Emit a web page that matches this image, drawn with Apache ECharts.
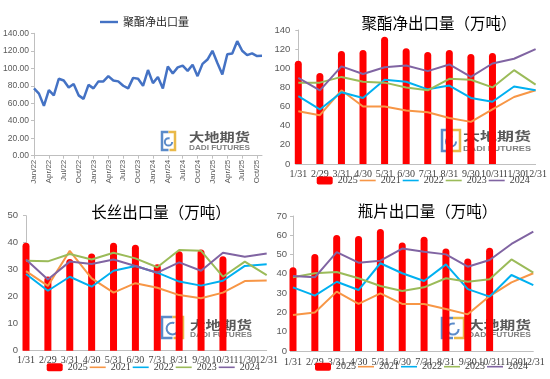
<!DOCTYPE html>
<html><head><meta charset="utf-8">
<script src="https://cdn.jsdelivr.net/npm/echarts@6/dist/echarts.min.js"></script>
<style>html,body{margin:0;padding:0;background:#fff}#c{width:550px;height:379px}</style>
</head><body><div id="c"></div>
<script>
// ---------- DATA ----------
const monthNames = ['Jan','Feb','Mar','Apr','May','Jun','Jul','Aug','Sep','Oct','Nov','Dec'];
const tsYears = ['22','23','24','25'];
// net export series (monthly), first point plotted at "Jan/22"
const netExportValues = [77, 71, 57, 75, 69, 88, 86, 78, 82, 69, 65, 81,
  77, 85, 85, 91, 86, 85, 80, 77, 89, 88, 80, 98,
  83, 90, 77, 102, 94, 101, 103, 97, 104, 91, 105, 110,
  120, 106, 93, 116, 117, 131, 120, 115, 117, 114, 114.24];

const monthEnds = ['1/31','2/29','3/31','4/30','5/31','6/30','7/31','8/31','9/30','10/31','11/30','12/31'];

// 聚酯净出口量（万吨）
const pe2025 = [108, 95, 118, 119, 133, 121, 117, 119, 115, 116];
const pe2021 = [55, 51, 77, 60, 60, 56, 54, 48, 44, 57, 70, 77];
const pe2022 = [71, 57, 75, 69, 88, 86, 78, 82, 69, 65, 81, 77];
const pe2023 = [85, 85, 91, 86, 85, 80, 77, 89, 88, 80, 98, 83];
const pe2024 = [90, 77, 102, 94, 101, 103, 97, 104, 91, 105, 110, 120];

// 长丝出口量（万吨）
const fy2025 = [40, 27.5, 34, 36, 40, 39.2, 32, 36.8, 37.5, 35];
const fy2021 = [29.5, 24, 37, 26.8, 21.5, 25, 23.3, 20.6, 19.4, 21.5, 25.8, 26];
const fy2022 = [28.4, 22.2, 27.4, 23.7, 29.6, 31.4, 28.9, 25.6, 24.1, 25.9, 31.4, 32];
const fy2023 = [33.3, 33.1, 35.8, 33.8, 36.3, 34.2, 30.9, 37.3, 37, 27.4, 33, 28];
const fy2024 = [33.8, 26.4, 33, 32.1, 33.8, 31.4, 28.9, 32.7, 29.6, 36.3, 34.8, 36];

// 瓶片出口量（万吨）
const bt2025 = [43.4, 50.3, 60.1, 59.6, 63.3, 56.2, 59.3, 53.2, 48, 53.6];
const bt2021 = [18.7, 20, 30.8, 24.4, 29.9, 24.4, 24.4, 21.8, 19, 28.5, 35.6, 40.3];
const bt2022 = [33, 28.7, 35.9, 31.6, 45.5, 40.3, 36.3, 44.9, 32.1, 28.2, 39.4, 34.2];
const bt2023 = [38.2, 40.3, 41, 37.7, 33.7, 31.1, 33, 37.7, 35.9, 37.2, 47.5, 40.6];
const bt2024 = [38.9, 38.2, 51.3, 45.8, 46.8, 53.1, 51.5, 50.1, 43.7, 47.2, 55.5, 61.9];

const yearNames = ['2025','2021','2022','2023','2024'];
const titles = ['聚酯净出口量（万吨）','长丝出口量（万吨）','瓶片出口量（万吨）'];
const netName = '聚酯净出口量';
const logoCn = '大地期货';
const logoEn = 'DADI FUTURES';

// ---------- BUILD ----------
const tsLabels = [];
tsYears.forEach(y => monthNames.forEach(m => tsLabels.push(m + '/' + y)));
const tsCats = tsLabels.slice(0, netExportValues.length);

const colors = {'2025':'#FF0000','2021':'#F79646','2022':'#00B0F0','2023':'#9BBB59','2024':'#8064A2'};
const axisGray = '#BFBFBF';
const labelGray = '#595959';
const serif = '"Liberation Serif", serif';
const sans = '"Liberation Sans", Arial, sans-serif';
const cjk = '"Noto Sans CJK SC", sans-serif';
const lineIcon = 'path://M0,0M0,3.2H16V4.8H0ZM16,8';
const lineIconThick = 'path://M0,0M0,2.8H18V5.2H0ZM18,8';

const grids = [
  {left: 32, top: 33.3, width: 230, height: 122.4},
  {left: 298.3, top: 30, width: 246, height: 134},
  {left: 26, top: 215.7, width: 240.7, height: 135},
  {left: 293, top: 216, width: 240.3, height: 135}
];

function yAxis(gi, max, interval, margin, fmt, fs) {
  return {
    type: 'value', gridIndex: gi, min: 0, max: max, interval: interval,
    splitLine: {show: false},
    axisLine: {show: true, lineStyle: {color: axisGray, width: 1}},
    axisTick: {show: true, length: 3, lineStyle: {color: axisGray}},
    axisLabel: {color: labelGray, fontSize: fs, fontFamily: sans, margin: margin, formatter: fmt}
  };
}
function xAxisMonth(gi, margin) {
  return {
    type: 'category', gridIndex: gi, data: monthEnds, boundaryGap: false,
    axisLine: {show: true, lineStyle: {color: axisGray, width: 1}},
    axisTick: {show: false},
    axisLabel: {interval: 0, color: '#404040', fontSize: 10, fontFamily: serif, margin: margin},
    splitLine: {show: false}
  };
}

const xAxes = [
  {
    type: 'category', gridIndex: 0, data: tsCats, boundaryGap: false,
    axisLine: {show: true, lineStyle: {color: axisGray, width: 1}},
    axisTick: {show: true, interval: 2, length: 3, lineStyle: {color: axisGray}},
    axisLabel: {interval: 2, rotate: 90, color: labelGray, fontSize: 8, fontFamily: sans, margin: 4},
    splitLine: {show: false}
  },
  xAxisMonth(1, 5), xAxisMonth(2, 5), xAxisMonth(3, 6)
];
const yAxes = [
  yAxis(0, 140, 20, 5, v => v.toFixed(2), 8.5),
  yAxis(1, 140, 20, 8, null, 9.5),
  yAxis(2, 50, 10, 8, null, 9.5),
  yAxis(3, 70, 10, 6, null, 9.5)
];

function panelSeries(gi, bars, lines) {
  const out = [{
    name: '2025', type: 'bar', xAxisIndex: gi, yAxisIndex: gi, data: bars,
    barWidth: 7, clip: false, z: 2,
    itemStyle: {color: colors['2025'], borderRadius: [3.5, 3.5, 0, 0]}
  }];
  ['2021','2022','2023','2024'].forEach((n, i) => {
    out.push({
      name: n, type: 'line', xAxisIndex: gi, yAxisIndex: gi, data: lines[i],
      showSymbol: false, symbol: 'none', z: 3,
      lineStyle: {color: colors[n], width: 2}, itemStyle: {color: colors[n]}
    });
  });
  return out;
}

const lastIdx = netExportValues.length - 1;
const series = [{
  name: netName, type: 'line', xAxisIndex: 0, yAxisIndex: 0,
  data: netExportValues.map((v, i) => i === lastIdx ? {
    value: v,
    label: {show: true, position: 'inside', offset: [-4, 1], formatter: '{c}', color: '#404040', fontSize: 9.5, fontFamily: sans}
  } : v),
  showSymbol: false, symbol: 'none',
  lineStyle: {color: '#4472C4', width: 2.5}, itemStyle: {color: '#4472C4'}
}].concat(
  panelSeries(1, pe2025, [pe2021, pe2022, pe2023, pe2024]),
  panelSeries(2, fy2025, [fy2021, fy2022, fy2023, fy2024]),
  panelSeries(3, bt2025, [bt2021, bt2022, bt2023, bt2024])
);

function yearLegend(left, top) {
  return {
    left: left, top: top, padding: 0, itemGap: 2, itemWidth: 16, itemHeight: 8,
    data: yearNames.map(n => ({name: n, icon: n === '2025' ? 'roundRect' : lineIcon})),
    selectedMode: false,
    textStyle: {color: '#404040', fontSize: 10, fontFamily: serif, padding: [3, 0, 0, 0]}
  };
}
const legends = [
  {left: 100, top: 16.5, padding: 0, itemWidth: 18, itemHeight: 8,
   data: [{name: netName, icon: lineIconThick}], selectedMode: false,
   textStyle: {color: '#262626', fontSize: 11, fontFamily: cjk}},
  yearLegend(316.7, 175.5),
  yearLegend(46.7, 362.3),
  yearLegend(315, 361.7)
];

// measure helper for logo text widths
const mctx = document.createElement('canvas').getContext('2d');
function measure(txt, font) { mctx.font = font; return mctx.measureText(txt).width; }

function logo(ix, iy, iw, ih, tx, ty1, ty2, tw) {
  const els = [];
  const half = iw / 2;
  els.push({type: 'polyline', silent: true, shape: {points: [[ix + half, iy], [ix, iy], [ix, iy + ih], [ix + half, iy + ih]]},
    style: {stroke: '#5B8BC9', lineWidth: 2.5, fill: null}});
  els.push({type: 'polyline', silent: true, shape: {points: [[ix + half, iy], [ix + iw, iy], [ix + iw, iy + ih], [ix + half + 1, iy + ih]]},
    style: {stroke: '#E9B949', lineWidth: 2.5, fill: null}});
  els.push({type: 'arc', silent: true, shape: {cx: ix + half, cy: iy + ih * 0.55, r: Math.min(iw, ih) * 0.28, startAngle: 0, endAngle: Math.PI * 1.6},
    style: {stroke: '#5B8BC9', lineWidth: 2, fill: null}});
  const f1 = 'bold 12px "Noto Sans CJK SC"';
  const w1 = measure(logoCn, f1) || 48;
  els.push({type: 'text', silent: true, x: tx, y: ty1, scaleX: tw / w1,
    style: {text: logoCn, x: 0, y: 0, fill: '#595959', font: f1, textVerticalAlign: 'middle'}});
  const f2 = 'bold 6.5px "Liberation Sans"';
  const w2 = measure(logoEn, f2) || 45;
  els.push({type: 'text', silent: true, x: tx, y: ty2, scaleX: tw / w2,
    style: {text: logoEn, x: 0, y: 0, fill: '#7F7F7F', font: f2, textVerticalAlign: 'middle'}});
  return els;
}

function titleText(cx, cy, txt) {
  return {type: 'text', silent: true, x: cx, y: cy,
    style: {text: txt, x: 0, y: 0, fill: '#000', font: '15.5px "Noto Sans CJK SC"', textAlign: 'center', textVerticalAlign: 'middle'}};
}

const graphics = [].concat(
  logo(162, 132, 13, 18, 189, 137.3, 148, 61),
  logo(442, 130, 18, 21, 463, 136.7, 149, 68),
  logo(162, 317, 21, 21, 190, 325, 335, 62),
  logo(442, 318, 22, 20, 468, 325, 335, 63),
  [titleText(439, 23, titles[0]), titleText(161, 211.7, titles[1]), titleText(427.5, 210.7, titles[2])]
);

const chart = echarts.init(document.getElementById('c'), null, {renderer: 'canvas'});
chart.setOption({
  backgroundColor: '#fff',
  animation: false,
  textStyle: {fontFamily: sans},
  grid: grids.map(g => Object.assign({containLabel: false}, g)),
  xAxis: xAxes,
  yAxis: yAxes,
  legend: legends,
  series: series,
  graphic: graphics
});
</script></body></html>
